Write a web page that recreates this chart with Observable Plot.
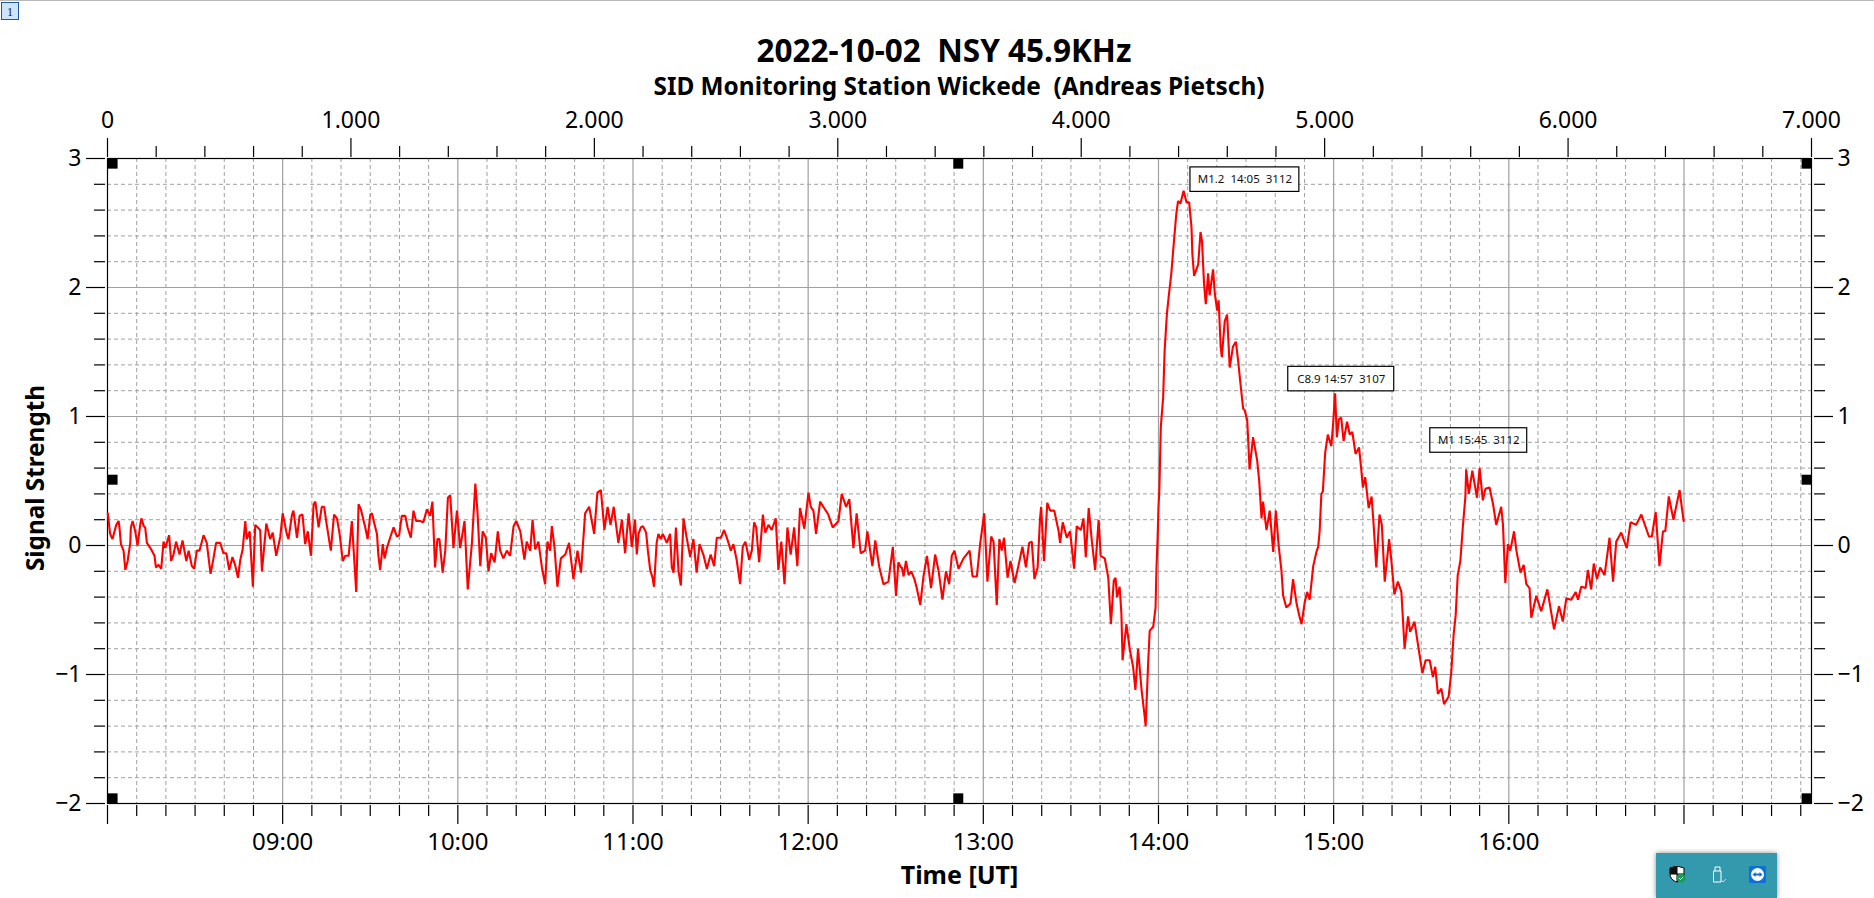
<!DOCTYPE html>
<html><head><meta charset="utf-8">
<script src="https://cdn.jsdelivr.net/npm/d3@7"></script>
<script src="https://cdn.jsdelivr.net/npm/@observablehq/plot@0.6"></script>
<style>
html,body{margin:0;padding:0;background:#fff;overflow:hidden;width:1874px;height:898px}
#topline{position:absolute;left:0;top:0;width:1874px;height:1px;background:#b9b9b9}
#btn{position:absolute;left:1px;top:2px;width:16px;height:16px;background:#cfe4f8;border:1px solid #1a5a9c;font:12px "Liberation Serif",serif;text-align:center;line-height:18px;color:#123}
#head{position:relative;height:100px;width:1874px}
#title{position:absolute;left:0;width:1888px;top:30px;margin:0;text-align:center;font:700 31.5px/40px "Noto Sans",sans-serif;white-space:pre;color:#000}
#subtitle{position:absolute;left:0;width:1918px;top:71px;margin:0;text-align:center;font:700 24.4px/30px "Noto Sans",sans-serif;white-space:pre;color:#000}
#chart svg{display:block;background:transparent}
#chart text{white-space:pre}
#tray{position:absolute;left:1656px;top:853px;width:121px;height:45px;background:#339aae;box-shadow:0 0 5px rgba(0,0,0,.45)}
#tray svg{position:absolute;top:13px}
</style></head><body>
<div id="topline"></div>
<div id="btn">1</div>
<div id="head">
<h1 id="title">2022-10-02  NSY 45.9KHz</h1>
<h2 id="subtitle">SID Monitoring Station Wickede  (Andreas Pietsch)</h2>
</div>
<div id="chart"></div>
<div id="tray">
<svg style="left:13px" width="17" height="17" viewBox="0 0 17 17"><path d="M8 0L15 2V8C15 12 12 15 8 16C4 15 1 12 1 8V2Z" fill="#fff" stroke="#000"/><path d="M8 0V16M1 8H15" stroke="#000"/><path d="M1 2L8 0V8H1Z M8 8H15C15 12 12 15 8 16Z" fill="#111"/><circle cx="12" cy="12" r="4.5" fill="#1c9a57"/><path d="M10 12l1.5 1.5L14 11" stroke="#fff" fill="none"/></svg>
<svg style="left:56px" width="15" height="17" viewBox="0 0 15 17"><path d="M3 5V1H8V5M1.5 5H9V16H1.5Z" fill="none" stroke="#fff"/><path d="M9 14l2 2 3-3" stroke="#bfe3ea" fill="none"/></svg>
<svg style="left:93px" width="17" height="17" viewBox="0 0 17 17"><rect width="17" height="17" rx="1" fill="#0e6fd8"/><circle cx="8.5" cy="8.5" r="6.5" fill="#fff"/><path d="M3.5 8.5l3-2.5v1.6h4V6l3 2.5-3 2.5V9.4h-4V11Z" fill="#0e6fd8"/></svg>
</div>
<script>
// Signal: [minutes after 08:00, signal strength]
const signal0800 = [[0.1,.25],[.9,.09],[1.7,.05],[2.3,.10],[3,.16],[3.8,.19],[4.1,.14],[4.6,.01],[5.5,-.04],[6.1,-.19],[6.9,-.12],[7.8,.02],[8,.14],[8.6,.19],[9.5,.11],[10.3,0],[11.2,.16],[11.6,.21],[12.4,.15],[12.9,.14],[13.5,.02],[14.4,-.01],[15.2,-.04],[16.1,-.08],[16.6,-.17],[17.5,-.15],[18.4,-.18],[19.2,.03],[19.8,-.02],[21.1,.08],[21.8,-.12],[22.6,-.07],[23.5,.03],[24.7,-.07],[25.7,.04],[27,-.12],[27.8,-.04],[28.9,-.16],[29.7,-.18],[30.6,-.04],[31.5,-.04],[32.9,.08],[34,.02],[35.3,-.22],[36.3,-.10],[37.2,.02],[38.6,.02],[39.7,-.06],[40.7,-.06],[41.7,-.19],[42.8,-.09],[43.7,-.15],[44.7,-.25],[45.5,-.11],[46.3,-.03],[47.2,.19],[47.7,.05],[48.7,.11],[49.8,-.32],[50.6,.16],[52.3,.12],[52.9,-.20],[54.4,.17],[55.7,.05],[56.6,.10],[57.8,-.08],[59.2,.07],[60,.25],[61.4,.09],[62,.05],[63.2,.24],[63.7,.27],[64.9,.06],[65.8,.23],[66.8,.24],[67.7,.01],[68.6,.11],[69.7,-.08],[70.6,.32],[71.2,.34],[72.3,.14],[73.4,.30],[74.2,.30],[75.1,.16],[76.5,-.04],[77.6,.24],[78.6,.21],[79.5,.09],[80.6,-.12],[81.4,-.08],[82.6,-.08],[83.7,.19],[85.2,-.36],[86,.32],[86.8,.28],[88.3,.14],[89.1,.05],[90,.24]];
const signal0930 = [[90.6,.25],[91.5,.16],[92.3,.09],[92.8,-.08],[93.4,-.19],[94.3,.01],[94.9,-.10],[95.7,-.02],[96.8,.06],[98,.14],[99.1,.07],[99.9,.08],[100.8,.23],[102,.23],[102.8,.14],[103.9,.06],[104.8,.27],[105.7,.19],[107.1,.19],[108.2,.18],[109.4,.28],[110.5,.23],[111.3,.34],[112.2,-.17],[113,.05],[113.7,.05],[114.8,-.21],[115.7,-.04],[116.6,.37],[117.4,.39],[118.5,-.02],[119.7,.27],[120.8,-.02],[122.3,.19],[123.4,-.34],[124.8,.01],[126,.48],[126.7,.27],[127.7,-.16],[128.5,.11],[129.6,.06],[130.5,-.20],[131.4,-.06],[132.6,-.13],[133.7,.11],[134.5,-.04],[135.6,-.10],[136.8,-.04],[137.9,-.08],[139.1,.15],[140,.19],[141.4,.11],[142.8,-.11],[143.6,.03],[144.8,-.04],[145.6,.20],[146.5,-.03],[147.6,.03],[148.8,-.17],[149.9,-.30],[150.7,.03],[151.6,-.04],[152.2,.15],[153.1,-.01],[154.1,-.32],[155.3,-.10],[156.8,-.07],[158.1,.02],[159.6,-.26],[161,-.04],[162.2,-.21],[163.6,.25],[165,.30],[166.7,.09],[167.8,.41],[169,.43],[170.2,.12],[171.3,.30],[172.3,.16],[173.4,.30],[175,.02],[176.2,.20],[177.3,-.06],[178.5,.25],[179.6,-.01],[180.7,.20]];
const signal1100 = [[181.3,-.07],[181.9,.09],[182.7,.14],[183.4,.15],[184.5,.10],[185.1,-.04],[185.9,-.19],[186.7,-.25],[187.2,-.32],[188.1,.02],[188.7,.09],[189.5,.05],[190.2,.09],[191.6,.02],[192.7,.09],[193.3,-.17],[193.9,-.21],[194.7,.14],[195.6,-.20],[196.4,-.31],[197.3,.21],[198.4,.06],[199.6,-.09],[200.7,.05],[201.8,-.21],[202.8,.01],[204.1,-.07],[205.3,-.18],[206.6,-.07],[207.8,-.16],[208.7,.06],[210.1,.06],[211.2,.12],[212.3,.05],[213.5,-.04],[214.4,.01],[215.5,-.11],[216.7,-.30],[217.6,-.01],[218.5,.03],[219.8,-.11],[220.7,-.04],[221.5,.18],[222.2,.14],[223.2,-.13],[224.5,.24],[225.3,.10],[226.4,.16],[227.5,.12],[228.9,.21],[229.8,-.19],[230.8,.03],[231.9,-.30],[232.9,.14],[234,-.07],[235.2,.14],[236.3,-.16],[237.2,.29],[238.7,.13],[240.1,.41],[240.9,.30],[241.8,.27],[242.7,.09],[244.1,.34],[245.2,.30],[246.9,.24],[248.4,.14],[250.4,.19],[251.5,.40],[253,.30],[254.1,.36],[255.5,-.02],[256.6,.25],[258,-.06],[259.5,-.04],[260.3,.11],[262,-.16],[263,.04],[264.3,-.16],[265.8,-.30],[267.5,-.28],[269,-.01],[270.1,-.39],[270.9,-.13],[271.8,-.17]];
const signal1230 = [[272.1,-.17],[272.7,-.24],[273.5,-.12],[274.4,-.23],[275.3,-.20],[276.4,-.26],[277.2,-.33],[278.4,-.46],[279.5,-.24],[280.7,-.08],[281.2,-.17],[282.1,-.33],[283.5,-.07],[284.7,-.20],[286,-.42],[287.2,-.20],[288.3,-.30],[289.2,-.08],[290.1,-.04],[291.5,-.18],[293.2,-.10],[295.3,-.04],[296.3,-.24],[297.8,-.24],[298.9,.01],[300.3,.25],[301.4,-.28],[302.7,.07],[303.5,.03],[304.6,-.46],[305.5,.05],[306.3,-.04],[307.1,.06],[308.3,-.25],[309.3,-.12],[310.7,-.29],[312,-.16],[313.4,-.01],[314.6,-.17],[315.7,.02],[316.6,.03],[317.5,-.26],[318.6,-.17],[319.4,.20],[319.8,.30],[320.8,-.12],[321.9,.33],[322.9,.27],[324.3,.27],[325.8,.11],[326.3,.02],[327.2,.18],[328.6,.06],[329.7,.11],[331.1,-.18],[332,.15],[333.4,.12],[334.3,.21],[335.1,-.09],[336.1,.29],[337.2,.03],[338.3,-.19],[339.5,.20]];
const signalDip = [[340.2,-.08],[341.6,-.10],[342.8,-.25],[343.7,-.61],[344.7,-.27],[345.3,-.25],[345.8,-.40],[346.7,-.32],[347.3,-.53],[347.7,-.89],[349,-.61],[350.2,-.81],[351.3,-.94],[352.1,-1.12],[353,-.80],[354.2,-1.12],[355.3,-1.33],[355.6,-1.40],[356.5,-.89],[357,-.66],[358.2,-.63],[359,-.48],[359.3,-.18],[359.7,.06],[360,.30]];
const signalFlareM12 = [[360.3,.43],[360.8,.92],[361.6,1.15],[362.1,1.51],[362.9,1.80],[363.5,1.93],[364.4,2.11],[365.3,2.36],[366.1,2.57],[366.7,2.67],[367.5,2.65],[368.6,2.75],[369.6,2.66],[370.5,2.66],[371.3,2.47],[371.6,2.26],[372.2,2.09],[373.6,2.18],[374.4,2.43],[374.9,2.36],[375.6,2.03],[376.2,1.87],[377,2.11],[377.5,1.94],[378.7,2.14],[379.3,1.95],[380.1,1.82],[380.6,1.90],[381.3,1.54],[381.7,1.46],[382.7,1.74],[383.5,1.79],[384.4,1.38],[385.5,1.54],[386.5,1.58],[387.3,1.43],[388.1,1.25],[389,1.06],[389.5,1.05],[390.4,.97],[391.2,.59],[392.4,.84],[393.8,.66],[394.5,.50],[395.3,.21],[395.8,.34],[397,.12],[398.1,.27],[399.3,-.05],[400.2,.27],[401.2,-.01],[402.1,-.19],[402.7,-.39],[403.8,-.48],[405.2,-.45],[406.1,-.26],[407.3,-.45],[408.2,-.54],[409,-.61],[410.1,-.44],[410.9,-.36],[411.8,-.42],[413,-.16],[414.1,-.05],[414.7,-.01],[415.2,.11]];
const signalFlareC89 = [[415.8,.40],[416.3,.42],[417.1,.72],[418,.86],[419.2,.77],[419.8,.94],[420.5,1.18],[421.1,.84],[421.8,.98],[422.6,.99],[423.4,.81],[424.6,.96],[425.5,.86],[426.4,.88],[427.5,.71],[428.7,.76],[429.5,.58],[430,.45],[430.8,.53],[432,.29],[433,.38],[433.7,.16],[434.6,-.17],[435.7,.24],[436.5,.16],[437.5,-.28],[439,.05],[439.7,-.10],[440.8,-.38],[442,-.28],[443.2,-.36],[444.3,-.80],[445.5,-.55],[446.2,-.67],[447.7,-.59],[448.9,-.77],[450.4,-.99],[451.5,-.89],[452.9,-.89],[454,-1.02],[454.8,-.94],[455.7,-1.15],[456.9,-1.11],[457.8,-1.23],[459.4,-1.17],[460.3,-.98]];
const signalFlareM1 = [[461.1,-.69],[461.8,-.54],[462.5,-.23],[463.4,-.12],[464.3,.16],[465.1,.37],[465.4,.59],[466.3,.40],[467.5,.58],[469.1,.37],[470,.60],[471.1,.35],[472,.44],[473.4,.45],[474.6,.32],[475.7,.16],[477.4,.30],[478,.16],[478.8,-.29],[479.7,.01],[480.5,-.04],[481.8,.11],[482.6,-.04],[484,-.21],[485.1,-.15],[486,-.30],[487.1,-.33],[487.7,-.56],[489.4,-.39],[491.1,-.51],[493.2,-.34],[495.5,-.65],[497.2,-.47],[498.5,-.59],[499.7,-.41],[501.4,-.42],[502.9,-.36],[503.7,-.42],[504.8,-.32],[506.3,-.33],[507.1,-.19],[508.2,-.34],[509.1,-.14],[510.2,-.26],[511.3,-.17],[512.8,-.23],[514.5,.06],[515.7,-.28],[516.8,.03],[518.5,.10],[520.4,-.02],[521.7,.18],[523.6,.16],[525.4,.24],[528,.07],[529,.07],[530.3,.26],[531.6,-.16],[532.8,.11],[533.6,.11],[534.8,.38],[536.4,.20],[538.5,.43],[539.4,.27],[539.9,.19]];

const hourTicks = [8,9,10,11,12,13,14,15,16,17];
const hourLabels = ["","09:00","10:00","11:00","12:00","13:00","14:00","15:00","16:00",""];
const xEnd = 17.728;
const topMajor = [0,1000,2000,3000,4000,5000,6000,7000];
const topLabels = ["0","1.000","2.000","3.000","4.000","5.000","6.000","7.000"];
const topEnd = 7000;
const yMajor = [3,2,1,0,-1,-2];
const yLabels = ["3","2","1","0","\u22121","\u22122"];

// Flare annotations: label, centre (minutes after 08:00, signal), box extent (minutes, signal)
const flareLabels = ["M1.2  14:05  3112","C8.9 14:57  3107","M1 15:45  3112"];
const flareMinutes = [389.6,422.6,469.7];
const flareSignal = [2.836,1.29,.814];
const flareSpan = [37.3,36.3,33.2];
const flareFill = ["white","white","none"];
const boxHeight = .19;

// Selection handles
const handleHours = [8.029,12.857,17.70,8.029,17.70,8.029,12.857,17.70];
const handleSignal = [2.96,2.96,2.96,.51,.51,-1.96,-1.96,-1.96];

const line = [...signal0800,...signal0930,...signal1100,...signal1230,...signalDip,...signalFlareM12,...signalFlareC89,...signalFlareM1]
  .map(([m,v]) => ({hour: 8 + m/60, v}));
const toHour = n => 8 + n * (xEnd - 8) / topEnd;
const isWhole = (v, s) => Math.abs(v/s - Math.round(v/s)) < 1e-6;
const xMinorTicks = d3.range(0, 59).map(i => 8 + i/6).filter(h => !isWhole(h, 1) && h < 17.71);
const xGridMinor = d3.range(0, 59).map(i => 8 + i/6).filter(h => !isWhole(h, 1) && h < xEnd);
const yMinor = d3.range(0, 26).map(i => -2 + i/5).filter(v => !isWhole(v, 1));
const topMinor = d3.range(0, topEnd + 1, 200).filter(n => n % 1000 !== 0);

const gridColor = "#a0a0a0", dash = "4,3", font = "'Noto Sans',sans-serif", topFont = 23, bottomFont = 24;
const blank = () => "";
const boxes = flareLabels.map((label,i) => ({label, m: flareMinutes[i], v: flareSignal[i], w: flareSpan[i], fill: flareFill[i]}));

const chart = Plot.plot({
  width: 1874, height: 798,
  marginLeft: 107, marginRight: 63, marginTop: 58, marginBottom: 95,
  style: {background: "transparent", fontFamily: font, color: "#000"},
  x: {domain: [8, xEnd]},
  y: {domain: [-2, 3]},
  marks: [
    Plot.ruleX(xGridMinor, {stroke: gridColor, strokeDasharray: dash, strokeWidth: 1}),
    Plot.ruleY(yMinor, {stroke: gridColor, strokeDasharray: dash, strokeWidth: 1}),
    Plot.ruleX(hourTicks.slice(1), {stroke: gridColor, strokeWidth: 1.2}),
    Plot.ruleY(yMajor.slice(1,5), {stroke: gridColor, strokeWidth: 1.2}),
    Plot.frame({stroke: "#000", strokeWidth: 1.2}),
    // bottom axis
    Plot.axisX(xMinorTicks, {anchor: "bottom", tickSize: 11, dy: 2, tickFormat: blank, label: null, strokeWidth: 1.2}),
    Plot.axisX(hourTicks, {anchor: "bottom", tickSize: 19, dy: 2, tickPadding: 8, tickFormat: h => hourLabels[hourTicks.indexOf(h)], label: null, fontSize: bottomFont, strokeWidth: 1.2}),
    // top axis
    Plot.axisX(topMinor.map(toHour), {anchor: "top", tickSize: 11, dy: -2, tickFormat: blank, label: null, strokeWidth: 1.2}),
    Plot.axisX(topMajor.map(toHour), {anchor: "top", tickSize: 19, dy: -2, tickPadding: 10, tickFormat: (h,i) => topLabels[i], label: null, fontSize: topFont, strokeWidth: 1.2}),
    // left and right axes
    Plot.axisY(yMinor, {anchor: "left", tickSize: 11, dx: -2, tickFormat: blank, label: null, strokeWidth: 1.2}),
    Plot.axisY(yMajor, {anchor: "left", tickSize: 19, dx: -2, tickPadding: 5, tickFormat: (v,i) => yLabels[i], label: null, fontSize: topFont, strokeWidth: 1.2}),
    Plot.axisY(yMinor, {anchor: "right", tickSize: 11, dx: 2, tickFormat: blank, label: null, strokeWidth: 1.2}),
    Plot.axisY(yMajor, {anchor: "right", tickSize: 19, dx: 2, tickPadding: 5, tickFormat: (v,i) => yLabels[i], label: null, fontSize: topFont, strokeWidth: 1.2}),
    Plot.text(["Time [UT]"], {frameAnchor: "bottom", dy: 72, fontSize: 25, fontWeight: 700, lineAnchor: "middle"}),
    Plot.text(["Signal Strength"], {frameAnchor: "left", dx: -71, dy: -3, rotate: -90, fontSize: 24.3, fontWeight: 700, textAnchor: "middle"}),
    Plot.line(line, {x: "hour", y: "v", stroke: "#ff0000", strokeWidth: 2.1, strokeLinejoin: "miter"}),
    Plot.rect(boxes, {x1: d => 8 + (d.m - d.w/2)/60, x2: d => 8 + (d.m + d.w/2)/60, y1: d => d.v - boxHeight/2, y2: d => d.v + boxHeight/2, fill: "fill", stroke: "#000", strokeWidth: 1.2}),
    Plot.text(boxes, {x: d => 8 + d.m/60, y: "v", text: "label", fontSize: 11.5, fill: "#111"}),
    Plot.dot(handleHours.map((h,i) => ({h, v: handleSignal[i]})), {x: "h", y: "v", symbol: "square", r: 5.64, fill: "#000", stroke: "none"})
  ]
});
document.getElementById("chart").append(chart);
</script>
</body></html>
